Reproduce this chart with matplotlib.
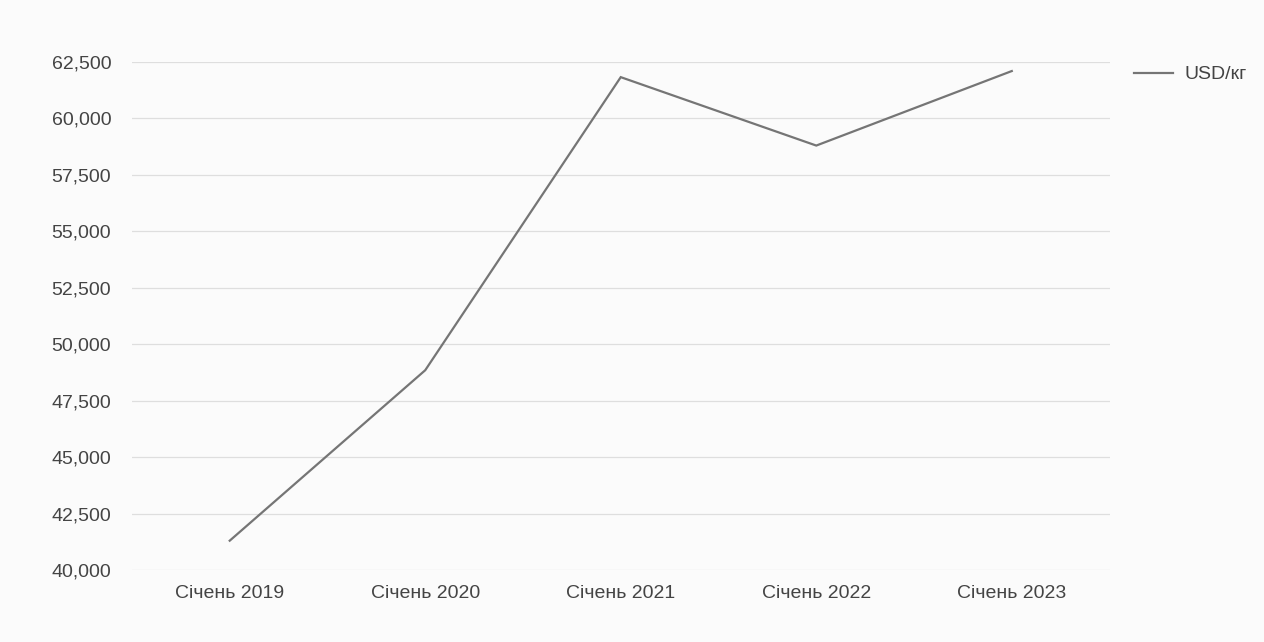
import matplotlib

matplotlib.use("Agg")
import matplotlib.pyplot as plt
from matplotlib.ticker import FuncFormatter

categories = ["Січень 2019", "Січень 2020", "Січень 2021", "Січень 2022", "Січень 2023"]
usd_per_kg = [41300, 48850, 61830, 58800, 62100]
y_ticks = [40000, 42500, 45000, 47500, 50000, 52500, 55000, 57500, 60000, 62500]

bg = "#fbfbfb"
text_color = "#444444"
line_color = "#757575"

plt.rcParams["font.family"] = ["Liberation Sans", "DejaVu Sans"]

fig = plt.figure(figsize=(12.64, 6.42), dpi=100, facecolor=bg)
ax = fig.add_axes([0.1044, 0.1121, 0.7734, 0.7913], facecolor=bg)

x = list(range(len(categories)))
ax.plot(x, usd_per_kg, color=line_color, linewidth=1.6, label="USD/кг", solid_joinstyle="miter")

ax.set_xlim(-0.5, len(categories) - 0.5)
ax.set_ylim(y_ticks[0], y_ticks[-1])
ax.set_yticks(y_ticks)
ax.yaxis.set_major_formatter(FuncFormatter(lambda v, _: f"{v:,.0f}"))
ax.set_xticks(x)
ax.set_xticklabels(categories)
ax.tick_params(axis="both", length=0, labelsize=14, colors=text_color)
ax.tick_params(axis="y", pad=15)
ax.tick_params(axis="x", pad=11)

ax.grid(axis="y", color="#dedede", linewidth=0.9)
ax.set_axisbelow(True)
for spine in ax.spines.values():
    spine.set_visible(False)

ax.legend(
    loc="upper left",
    bbox_to_anchor=(1.007, 1.027),
    frameon=False,
    fontsize=14,
    labelcolor=text_color,
    handlelength=2.0,
    handletextpad=0.6,
)

fig.savefig("out.png", dpi=100, facecolor=bg)
